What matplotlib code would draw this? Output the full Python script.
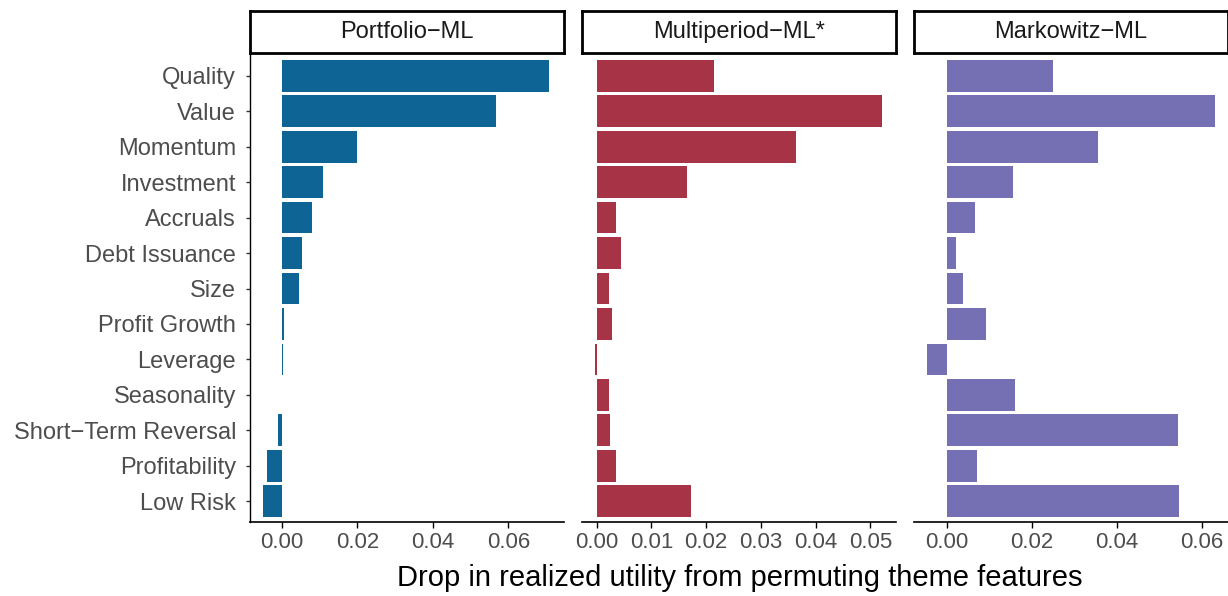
import matplotlib
matplotlib.use("Agg")
import matplotlib.pyplot as plt
import numpy as np

plt.rcParams['font.family'] = ['Liberation Sans', 'DejaVu Sans']

themes = ["Quality", "Value", "Momentum", "Investment", "Accruals", "Debt Issuance", "Size",
          "Profit Growth", "Leverage", "Seasonality", "Short\u2212Term Reversal", "Profitability", "Low Risk"]
portfolio_ml = [0.0708, 0.0568, 0.0200, 0.0110, 0.0079, 0.0053, 0.0045,
                0.0005, 0.0003, 0.0001, -0.0010, -0.0040, -0.0050]
multiperiod_ml = [0.0215, 0.0522, 0.0365, 0.0165, 0.0036, 0.0044, 0.0022,
                  0.0027, -0.0004, 0.0022, 0.0025, 0.0036, 0.0173]
markowitz_ml = [0.0249, 0.0631, 0.0355, 0.0155, 0.0066, 0.0021, 0.0038,
                0.0092, -0.0047, 0.0160, 0.0544, 0.0071, 0.0546]

panels = [("Portfolio\u2212ML", portfolio_ml, "#0E6494", (-0.0084, 0.0747), [0, 0.02, 0.04, 0.06]),
          ("Multiperiod\u2212ML*", multiperiod_ml, "#A63446", (-0.0027, 0.0547), [0, 0.01, 0.02, 0.03, 0.04, 0.05]),
          ("Markowitz\u2212ML", markowitz_ml, "#7570B3", (-0.0078, 0.0661), [0, 0.02, 0.04, 0.06])]
lefts = [250, 582, 914]
W, H = 1228, 596
fig = plt.figure(figsize=(W / 100, H / 100), dpi=100)
y = np.arange(len(themes))
for i, (title, vals, col, xl, ticks) in enumerate(panels):
    ax = fig.add_axes([lefts[i] / W, 1 - 522 / H, 314 / W, 467 / H])
    ax.barh(y, vals, height=0.9, color=col)
    ax.set_ylim(len(themes) - 1 + 0.58, -0.58)
    ax.set_xlim(*xl)
    ax.set_xticks(ticks)
    ax.set_xticklabels(["%.2f" % t for t in ticks])
    for s in ["top", "right"]:
        ax.spines[s].set_visible(False)
    ax.spines["bottom"].set_linewidth(1.2)
    ax.tick_params(axis="x", color="black", labelsize=16, length=4, width=1, labelcolor="#4d4d4d", pad=3)
    if i == 0:
        ax.set_yticks(y)
        ax.set_yticklabels(themes, fontsize=17, color="#4d4d4d")
        ax.tick_params(axis="y", length=3, width=1, color="#333333", pad=7)
        ax.spines["left"].set_linewidth(1.0)
    else:
        ax.set_yticks([])
        ax.spines["left"].set_visible(False)
    sax = fig.add_axes([lefts[i] / W, 1 - 53 / H, 314 / W, 42 / H])
    sax.set_xticks([]); sax.set_yticks([])
    for s in sax.spines.values():
        s.set_linewidth(2)
    sax.text(0.5, 0.5, title, ha="center", va="center", fontsize=17, color="#1a1a1a",
             transform=sax.transAxes)
fig.text(740 / W, 1 - 578 / H, "Drop in realized utility from permuting theme features",
         ha="center", va="center", fontsize=21)
fig.savefig("out.png", dpi=100)
